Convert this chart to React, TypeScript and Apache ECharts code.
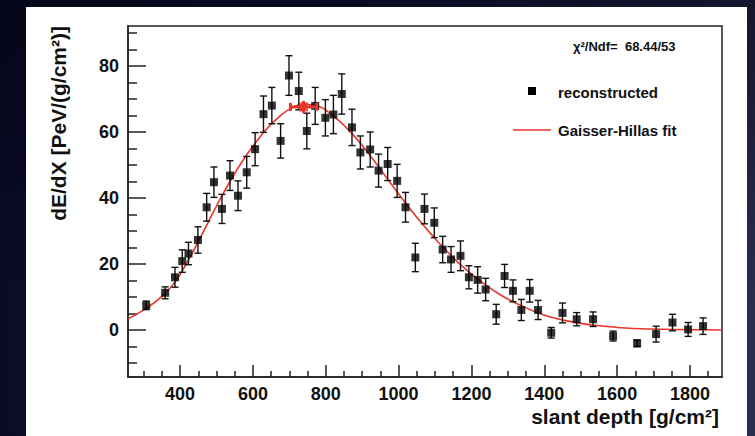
import React, { useEffect, useRef } from "react";
import * as echarts from "echarts";

// Reconstructed longitudinal profile: slant depth [g/cm²], dE/dX [PeV/(g/cm²)], uncertainty
const depth = [
  307, 359, 386, 406, 423, 449, 473, 493, 515, 537, 559, 583, 606, 629, 652, 676, 699, 726, 748, 771,
  799, 821, 844, 872, 895, 922, 945, 970, 996, 1019, 1046, 1071, 1098, 1121, 1144, 1170, 1193, 1217,
  1239, 1268, 1291, 1314, 1337, 1360, 1383, 1419, 1450, 1489, 1534, 1589, 1655, 1707, 1752, 1795, 1836,
];
const energy = [
  7.5, 11.3, 16.0, 20.9, 23.2, 27.3, 37.2, 44.8, 36.7, 46.8, 40.7, 47.8, 54.8, 65.4, 68.0, 57.3, 77.1, 72.4, 60.3, 67.9,
  64.3, 65.3, 71.5, 61.4, 53.8, 54.7, 48.3, 50.3, 45.2, 37.2, 22.0, 36.7, 32.5, 24.4, 21.4, 22.5, 16.0, 15.2,
  12.3, 4.8, 16.4, 11.9, 6.1, 11.9, 6.1, -0.8, 5.2, 3.3, 3.3, -1.8, -4.0, -1.2, 2.3, 0.2, 1.2,
];
const energyErr = [
  1.3, 1.8, 3.0, 3.4, 3.4, 4.0, 4.2, 4.6, 4.4, 4.5, 4.5, 4.8, 5.0, 5.5, 5.5, 5.2, 6.0, 5.7, 5.4, 5.6,
  5.5, 5.8, 6.1, 5.5, 5.0, 5.3, 5.0, 5.0, 5.0, 4.5, 4.3, 4.5, 4.5, 4.0, 3.9, 4.5, 3.5, 4.0,
  3.4, 3.0, 3.5, 3.3, 3.2, 3.4, 2.9, 1.6, 3.0, 2.0, 2.2, 1.5, 1.0, 2.4, 2.5, 2.1, 2.5,
];

// Gaisser-Hillas fit curve
const fitDepth = [
  257, 307, 354, 386, 409, 449, 475, 501, 537, 570, 606, 640, 675, 707, 738, 771, 821, 872, 918, 968,
  1014, 1051, 1096, 1123, 1169, 1224, 1278, 1333, 1399, 1463, 1527, 1582, 1645, 1755, 1888,
];
const fitEnergy = [
  3.4, 6.6, 10.6, 14.6, 18.5, 26.6, 32.2, 37.8, 45.0, 51.0, 56.6, 61.2, 64.9, 67.3, 68.4, 68.0, 64.8, 59.5, 53.4, 46.0,
  39.2, 34.0, 28.2, 25.0, 19.9, 14.9, 10.8, 7.6, 4.6, 2.8, 1.6, 1.0, 0.5, 0.2, 0.05,
];

// Shower maximum (Xmax) with its uncertainties
const xmaxDepth = [739];
const xmaxDepthErr = [36];
const xmaxEnergy = [67.6];
const xmaxEnergyErr = [1.8];

// Axis ticks
const xMajorTicks = [400, 600, 800, 1000, 1200, 1400, 1600, 1800];
const xMinorTicks = [
  300, 350, 450, 500, 550, 650, 700, 750, 850, 900, 950, 1050, 1100, 1150, 1250, 1300, 1350,
  1450, 1500, 1550, 1650, 1700, 1750, 1850,
];
const yMajorTicks = [0, 20, 40, 60, 80];
const yMinorTicks = [-10, -5, 5, 10, 15, 25, 30, 35, 45, 50, 55, 65, 70, 75, 85, 90];

const chiText = "χ²/Ndf=  68.44/53";
const FONT = "'Liberation Sans', Arial, Helvetica, sans-serif";
const RED = "#e8352b";

export default function App() {
  const ref = useRef<HTMLDivElement>(null);

  useEffect(() => {
    if (!ref.current) return;
    const chart = echarts.init(ref.current, undefined, { renderer: "svg" });

    const points = depth.map((d, i) => [d, energy[i], energyErr[i]]);
    const fit = fitDepth.map((d, i) => [d, fitEnergy[i]]);
    const xmax = xmaxDepth.map((d, i) => [d, xmaxEnergy[i], xmaxDepthErr[i], xmaxEnergyErr[i]]);

    const xRange = { min: 257, max: 1888 };
    const yRange = { min: -14.2, max: 92.1 };

    const errorBars = (params: any, api: any) => {
      const x = api.value(0);
      const y = api.value(1);
      const e = api.value(2);
      const top = api.coord([x, y + e]);
      const bot = api.coord([x, y - e]);
      const cap = 3.5;
      const style = { stroke: "#111", lineWidth: 1.4 };
      return {
        type: "group",
        children: [
          { type: "line", shape: { x1: top[0], y1: top[1], x2: bot[0], y2: bot[1] }, style },
          { type: "line", shape: { x1: top[0] - cap, y1: top[1], x2: top[0] + cap, y2: top[1] }, style },
          { type: "line", shape: { x1: bot[0] - cap, y1: bot[1], x2: bot[0] + cap, y2: bot[1] }, style },
        ],
      };
    };

    const xmaxBars = (params: any, api: any) => {
      const x = api.value(0);
      const y = api.value(1);
      const ex = api.value(2);
      const ey = api.value(3);
      const left = api.coord([x - ex, y]);
      const right = api.coord([x + ex, y]);
      const top = api.coord([x, y + ey]);
      const bot = api.coord([x, y - ey]);
      const cap = 4;
      const style = { stroke: RED, lineWidth: 3 };
      return {
        type: "group",
        children: [
          { type: "line", shape: { x1: left[0], y1: left[1], x2: right[0], y2: right[1] }, style },
          { type: "line", shape: { x1: left[0], y1: left[1] - cap, x2: left[0], y2: left[1] + cap }, style },
          { type: "line", shape: { x1: right[0], y1: right[1] - cap, x2: right[0], y2: right[1] + cap }, style },
          { type: "line", shape: { x1: top[0], y1: top[1], x2: bot[0], y2: bot[1] }, style },
        ],
      };
    };

    const axisLineStyle = { color: "#222", width: 1.5 };
    const labelStyle = {
      color: "#111",
      fontFamily: FONT,
      fontWeight: "bold" as const,
      fontSize: 18,
      formatter: (v: number) => String(v),
    };

    chart.setOption({
      animation: false,
      backgroundColor: "transparent",
      grid: {
        left: 128,
        top: 26,
        width: 594,
        height: 351,
        show: true,
        backgroundColor: "#fff",
        borderColor: "#222",
        borderWidth: 1.5,
      },
      xAxis: [
        {
          type: "value",
          ...xRange,
          position: "bottom",
          axisLine: { show: true, onZero: false, lineStyle: axisLineStyle },
          axisTick: { show: true, inside: true, length: 12, customValues: xMajorTicks, lineStyle: axisLineStyle },
          axisLabel: { show: true, customValues: xMajorTicks, margin: 8, ...labelStyle },
          splitLine: { show: false },
        },
        {
          type: "value",
          ...xRange,
          position: "bottom",
          offset: 0,
          axisLine: { show: false, onZero: false },
          axisTick: { show: true, inside: true, length: 6, customValues: xMinorTicks, lineStyle: axisLineStyle },
          axisLabel: { show: false },
          splitLine: { show: false },
        },
      ],
      yAxis: [
        {
          type: "value",
          ...yRange,
          position: "left",
          axisLine: { show: true, onZero: false, lineStyle: axisLineStyle },
          axisTick: { show: true, inside: true, length: 18, customValues: yMajorTicks, lineStyle: axisLineStyle },
          axisLabel: { show: true, customValues: yMajorTicks, margin: 9, ...labelStyle },
          splitLine: { show: false },
        },
        {
          type: "value",
          ...yRange,
          position: "left",
          offset: 0,
          axisLine: { show: false, onZero: false },
          axisTick: { show: true, inside: true, length: 9, customValues: yMinorTicks, lineStyle: axisLineStyle },
          axisLabel: { show: false },
          splitLine: { show: false },
        },
      ],
      series: [
        {
          name: "Gaisser-Hillas fit",
          type: "line",
          data: fit,
          smooth: 0.5,
          showSymbol: false,
          lineStyle: { color: RED, width: 1.6 },
          z: 2,
        },
        {
          type: "custom",
          renderItem: errorBars,
          data: points,
          encode: { x: 0, y: 1 },
          z: 3,
        },
        {
          name: "reconstructed",
          type: "scatter",
          data: points.map((p) => [p[0], p[1]]),
          symbol: "rect",
          symbolSize: 8,
          itemStyle: { color: "#000" },
          z: 4,
        },
        {
          type: "custom",
          renderItem: xmaxBars,
          data: xmax,
          encode: { x: 0, y: 1 },
          z: 5,
        },
        {
          type: "scatter",
          data: xmax.map((p) => [p[0], p[1]]),
          symbol: "rect",
          symbolSize: 9,
          itemStyle: { color: RED },
          z: 6,
        },
      ],
      graphic: [
        {
          type: "text",
          x: 719,
          y: 416,
          style: {
            text: "slant depth [g/cm²]",
            fill: "#111",
            font: `bold 21px ${FONT}`,
            align: "right",
            verticalAlign: "middle",
          },
        },
        {
          type: "text",
          x: 58,
          y: 26,
          rotation: Math.PI / 2,
          style: {
            text: "dE/dX [PeV/(g/cm²)]",
            fill: "#111",
            font: `bold 21px ${FONT}`,
            align: "right",
            verticalAlign: "middle",
          },
        },
        {
          type: "text",
          x: 573,
          y: 46,
          style: { text: chiText, fill: "#111", font: `bold 13px ${FONT}`, align: "left", verticalAlign: "middle" },
        },
        {
          type: "rect",
          shape: { x: 528, y: 87, width: 8, height: 8 },
          style: { fill: "#000" },
        },
        {
          type: "text",
          x: 558,
          y: 92,
          style: { text: "reconstructed", fill: "#111", font: `bold 15px ${FONT}`, align: "left", verticalAlign: "middle" },
        },
        {
          type: "line",
          shape: { x1: 513, y1: 130, x2: 551, y2: 130 },
          style: { stroke: RED, lineWidth: 1.6 },
        },
        {
          type: "text",
          x: 558,
          y: 130,
          style: {
            text: "Gaisser-Hillas fit",
            fill: "#111",
            font: `bold 15px ${FONT}`,
            align: "left",
            verticalAlign: "middle",
          },
        },
      ],
    });

    return () => chart.dispose();
  }, []);

  return (
    <div
      style={{
        position: "fixed",
        left: 0,
        top: 0,
        width: 755,
        height: 436,
        overflow: "hidden",
        background:
          "linear-gradient(to bottom, rgba(2,2,16,0.55), rgba(2,2,16,0) 70%), linear-gradient(to right, #0a0b26, #171a3a 55%, #2a2e4f)",
      }}
    >
      <div style={{ position: "absolute", left: 26, top: 7, width: 721, height: 429, background: "#fff" }} />
      <div ref={ref} style={{ position: "absolute", left: 0, top: 0, width: 755, height: 436 }} />
    </div>
  );
}
